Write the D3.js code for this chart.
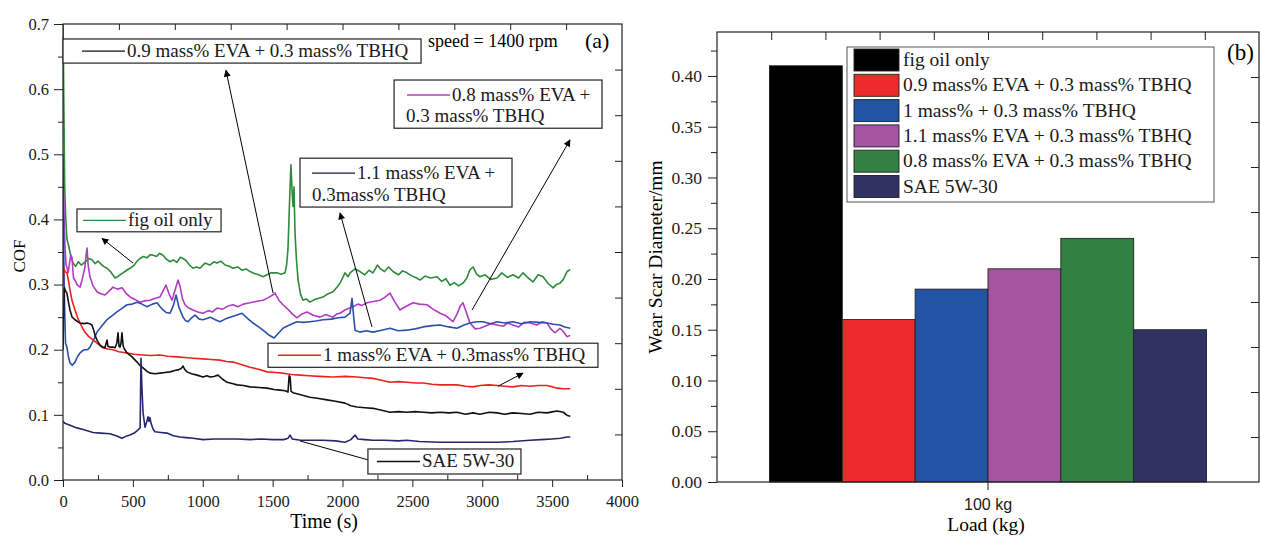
<!DOCTYPE html>
<html><head><meta charset="utf-8">
<script src="https://cdn.jsdelivr.net/npm/d3@7"></script>
<style>body{margin:0;background:#fff}svg{display:block}</style>
</head><body>
<svg id="c" width="1261" height="536"></svg>
<script>
// ---------- DATA: panel (a) COF vs time ----------
const figOil = [[0,0.72],[5,0.60],[12,0.45],[20,0.40],[28,0.37],[40,0.36],[55,0.345],[72,0.333],[90,0.328],[110,0.335],[130,0.33],[143,0.332],[165,0.336],[185,0.34],[207,0.338],[230,0.332],[250,0.336],[265,0.333],[290,0.328],[315,0.325],[340,0.32],[372,0.31],[390,0.312],[408,0.315],[430,0.318],[455,0.322],[480,0.325],[510,0.33],[530,0.336],[550,0.34],[575,0.343],[600,0.341],[625,0.346],[644,0.345],[670,0.343],[690,0.348],[716,0.345],[740,0.339],[766,0.335],[790,0.338],[815,0.334],[840,0.342],[859,0.34],[880,0.337],[905,0.33],[930,0.325],[955,0.327],[980,0.325],[1016,0.333],[1050,0.33],[1080,0.335],[1102,0.333],[1130,0.336],[1160,0.33],[1190,0.328],[1217,0.325],[1250,0.327],[1280,0.322],[1310,0.324],[1338,0.32],[1370,0.317],[1400,0.315],[1431,0.312],[1460,0.315],[1490,0.318],[1531,0.318],[1560,0.316],[1589,0.318],[1600,0.33],[1610,0.355],[1620,0.42],[1631,0.484],[1640,0.44],[1646,0.42],[1653,0.45],[1660,0.38],[1670,0.34],[1682,0.307],[1700,0.285],[1717,0.276],[1740,0.278],[1767,0.273],[1800,0.277],[1830,0.279],[1860,0.281],[1890,0.285],[1932,0.289],[1960,0.296],[1982,0.302],[2018,0.318],[2040,0.312],[2054,0.318],[2090,0.324],[2125,0.32],[2160,0.315],[2190,0.322],[2218,0.318],[2250,0.33],[2268,0.325],[2300,0.32],[2330,0.327],[2361,0.32],[2400,0.315],[2430,0.321],[2461,0.318],[2500,0.313],[2530,0.31],[2555,0.307],[2590,0.313],[2630,0.31],[2676,0.312],[2710,0.305],[2740,0.309],[2769,0.299],[2800,0.303],[2830,0.298],[2862,0.302],[2890,0.31],[2910,0.322],[2934,0.327],[2960,0.316],[2984,0.312],[3020,0.315],[3060,0.308],[3106,0.31],[3140,0.318],[3180,0.311],[3220,0.315],[3260,0.31],[3292,0.318],[3330,0.31],[3363,0.304],[3400,0.315],[3435,0.312],[3470,0.302],[3507,0.295],[3530,0.3],[3556,0.302],[3580,0.308],[3607,0.32],[3630,0.323]];
const eva08 = [[0,0.30],[4,0.44],[8,0.40],[14,0.36],[22,0.33],[30,0.325],[36,0.318],[45,0.33],[55,0.345],[64,0.342],[75,0.31],[86,0.307],[100,0.30],[122,0.296],[140,0.31],[157,0.327],[165,0.345],[172,0.356],[180,0.33],[193,0.312],[215,0.298],[243,0.289],[270,0.286],[300,0.284],[330,0.29],[358,0.296],[390,0.293],[422,0.295],[450,0.287],[480,0.281],[515,0.277],[550,0.273],[585,0.275],[623,0.276],[660,0.279],[694,0.281],[715,0.29],[737,0.299],[760,0.285],[780,0.276],[800,0.29],[823,0.307],[840,0.295],[855,0.278],[873,0.269],[900,0.264],[930,0.261],[965,0.258],[1002,0.256],[1040,0.26],[1070,0.258],[1102,0.264],[1140,0.262],[1180,0.267],[1217,0.269],[1250,0.266],[1290,0.27],[1338,0.272],[1380,0.274],[1431,0.276],[1470,0.28],[1500,0.284],[1517,0.287],[1545,0.276],[1574,0.269],[1610,0.262],[1640,0.255],[1674,0.249],[1710,0.255],[1746,0.258],[1790,0.253],[1839,0.25],[1880,0.254],[1932,0.25],[1960,0.255],[1982,0.256],[2018,0.261],[2050,0.264],[2075,0.266],[2110,0.27],[2140,0.268],[2175,0.272],[2220,0.274],[2268,0.276],[2300,0.28],[2340,0.287],[2370,0.275],[2411,0.261],[2450,0.266],[2504,0.272],[2550,0.27],[2604,0.269],[2650,0.262],[2698,0.256],[2740,0.252],[2791,0.243],[2820,0.255],[2845,0.268],[2862,0.272],[2885,0.258],[2912,0.241],[2950,0.232],[2984,0.233],[3020,0.236],[3060,0.24],[3106,0.238],[3150,0.236],[3180,0.241],[3220,0.238],[3260,0.235],[3300,0.242],[3342,0.241],[3390,0.238],[3430,0.243],[3463,0.241],[3490,0.232],[3521,0.226],[3556,0.233],[3580,0.228],[3607,0.22],[3630,0.222]];
const eva11 = [[0,0.50],[5,0.36],[10,0.28],[18,0.21],[28,0.204],[40,0.188],[50,0.18],[65,0.176],[86,0.181],[105,0.19],[122,0.195],[150,0.2],[175,0.2],[193,0.204],[215,0.213],[243,0.227],[280,0.237],[315,0.246],[350,0.252],[386,0.258],[420,0.263],[458,0.269],[495,0.27],[530,0.273],[565,0.27],[601,0.266],[640,0.27],[673,0.272],[695,0.266],[716,0.261],[740,0.257],[766,0.256],[790,0.268],[809,0.284],[830,0.265],[859,0.25],[875,0.245],[895,0.243],[920,0.249],[945,0.253],[975,0.247],[1002,0.246],[1030,0.248],[1052,0.25],[1090,0.246],[1123,0.243],[1160,0.247],[1195,0.25],[1240,0.253],[1281,0.256],[1320,0.248],[1360,0.241],[1400,0.235],[1431,0.23],[1470,0.223],[1510,0.218],[1540,0.225],[1574,0.233],[1620,0.238],[1674,0.243],[1720,0.242],[1767,0.243],[1810,0.244],[1860,0.246],[1920,0.247],[1970,0.249],[2018,0.25],[2054,0.256],[2068,0.279],[2078,0.255],[2090,0.23],[2125,0.227],[2170,0.229],[2218,0.227],[2280,0.23],[2340,0.233],[2400,0.229],[2461,0.23],[2520,0.232],[2576,0.235],[2640,0.237],[2698,0.238],[2760,0.235],[2819,0.233],[2870,0.238],[2912,0.241],[2960,0.243],[3006,0.243],[3060,0.24],[3106,0.243],[3160,0.241],[3220,0.243],[3280,0.24],[3342,0.243],[3400,0.242],[3463,0.241],[3510,0.239],[3556,0.238],[3590,0.235],[3630,0.233]];
const eva10 = [[0,0.30],[6,0.325],[15,0.32],[28,0.318],[40,0.305],[50,0.292],[65,0.275],[86,0.261],[105,0.249],[122,0.241],[140,0.233],[157,0.227],[185,0.22],[215,0.215],[250,0.209],[286,0.203],[320,0.201],[358,0.2],[400,0.197],[458,0.195],[510,0.193],[573,0.192],[630,0.191],[694,0.192],[750,0.19],[816,0.189],[870,0.188],[930,0.187],[1002,0.186],[1060,0.185],[1123,0.184],[1170,0.182],[1217,0.181],[1280,0.177],[1338,0.173],[1400,0.17],[1460,0.166],[1520,0.165],[1574,0.164],[1635,0.162],[1696,0.161],[1760,0.16],[1830,0.159],[1932,0.158],[2018,0.159],[2104,0.158],[2160,0.157],[2218,0.156],[2280,0.153],[2340,0.15],[2400,0.151],[2461,0.15],[2520,0.149],[2576,0.149],[2640,0.147],[2698,0.146],[2760,0.146],[2819,0.146],[2880,0.144],[2934,0.143],[2984,0.145],[3050,0.146],[3106,0.145],[3160,0.144],[3220,0.143],[3280,0.145],[3342,0.144],[3400,0.145],[3463,0.145],[3500,0.143],[3535,0.141],[3580,0.14],[3630,0.14]];
const eva09 = [[0,0.20],[5,0.26],[10,0.295],[18,0.29],[28,0.287],[40,0.272],[50,0.261],[65,0.25],[86,0.246],[105,0.243],[122,0.241],[150,0.24],[172,0.241],[190,0.24],[207,0.238],[220,0.23],[229,0.222],[245,0.214],[265,0.207],[285,0.204],[300,0.203],[315,0.215],[322,0.205],[336,0.204],[358,0.204],[372,0.203],[385,0.21],[394,0.226],[401,0.205],[408,0.204],[415,0.21],[422,0.226],[430,0.206],[437,0.202],[458,0.195],[494,0.189],[530,0.181],[550,0.176],[573,0.172],[600,0.167],[623,0.164],[660,0.163],[694,0.164],[730,0.165],[766,0.166],[800,0.168],[823,0.169],[845,0.171],[859,0.175],[870,0.17],[887,0.166],[920,0.163],[959,0.161],[1002,0.158],[1030,0.16],[1052,0.158],[1080,0.159],[1109,0.161],[1140,0.155],[1174,0.15],[1210,0.148],[1245,0.146],[1290,0.145],[1338,0.143],[1400,0.142],[1460,0.141],[1510,0.139],[1553,0.138],[1590,0.137],[1610,0.135],[1618,0.16],[1625,0.158],[1632,0.136],[1646,0.134],[1700,0.131],[1767,0.127],[1830,0.125],[1889,0.123],[1950,0.121],[2018,0.118],[2060,0.114],[2104,0.112],[2160,0.111],[2218,0.11],[2280,0.107],[2340,0.104],[2400,0.105],[2461,0.104],[2520,0.105],[2576,0.104],[2640,0.103],[2698,0.104],[2760,0.103],[2819,0.104],[2880,0.101],[2934,0.103],[2984,0.101],[3050,0.104],[3106,0.103],[3160,0.101],[3220,0.103],[3280,0.102],[3342,0.101],[3400,0.104],[3463,0.103],[3510,0.105],[3535,0.106],[3580,0.104],[3610,0.099],[3630,0.098]];
const sae = [[0,0.09],[14,0.087],[50,0.084],[100,0.08],[150,0.077],[215,0.073],[270,0.072],[336,0.071],[380,0.068],[422,0.064],[450,0.067],[480,0.069],[510,0.072],[537,0.077],[552,0.08],[558,0.187],[565,0.14],[573,0.103],[580,0.092],[587,0.081],[600,0.09],[608,0.097],[615,0.09],[622,0.096],[630,0.087],[645,0.078],[658,0.074],[700,0.073],[744,0.072],[790,0.068],[837,0.066],[880,0.065],[930,0.064],[1002,0.062],[1080,0.063],[1160,0.063],[1250,0.063],[1338,0.062],[1420,0.063],[1500,0.062],[1580,0.062],[1610,0.064],[1625,0.069],[1640,0.063],[1700,0.061],[1780,0.061],[1860,0.061],[1950,0.06],[2018,0.058],[2060,0.062],[2090,0.069],[2110,0.063],[2160,0.062],[2218,0.061],[2300,0.061],[2400,0.06],[2461,0.061],[2550,0.059],[2698,0.058],[2800,0.058],[2900,0.058],[3006,0.058],[3106,0.058],[3220,0.059],[3342,0.061],[3420,0.062],[3500,0.063],[3560,0.064],[3607,0.066],[3630,0.066]];

const xTicksA = [0,500,1000,1500,2000,2500,3000,3500,4000];
const yTicksA = [0,0.1,0.2,0.3,0.4,0.5,0.6,0.7];

// annotation boxes (data units: [t0, cof0, t1, cof1]) and arrows ([tail],[head])
const annotations = [
  {lines:["0.9 mass% EVA + 0.3 mass% TBHQ"], color:"#111", box:[0,0.677,2562,0.640], arrow:[[1503,0.287],[1166,0.629]], indent:19},
  {lines:["0.8 mass% EVA +","0.3 mass% TBHQ"], color:"#b23cc0", box:[2369,0.614,3857,0.540], arrow:[[2927,0.261],[3628,0.522]], indent:13},
  {lines:["1.1 mass% EVA +","0.3mass% TBHQ"], color:"#1a1a3a", box:[1696,0.494,3213,0.419], arrow:[[2211,0.235],[1982,0.41]], indent:12},
  {lines:["fig oil only"], color:"#2e8b3a", box:[100,0.416,1131,0.381], arrow:[[501,0.333],[279,0.371]], indent:6},
  {lines:["1 mass% EVA + 0.3mass% TBHQ"], color:"#e8231e", box:[1467,0.210,3828,0.173], arrow:[[3113,0.144],[3292,0.164]], indent:10},
  {lines:["SAE 5W-30"], color:"#111", box:[2182,0.0476,3277,0.0092], arrow:[[2182,0.031],[1696,0.0599]], indent:9, noHead:true}
];

// ---------- DATA: panel (b) wear scar ----------
const loadCats = ["100 kg"];
const barNames = ["fig oil only","0.9 mass% EVA + 0.3 mass% TBHQ","1 mass% + 0.3 mass% TBHQ","1.1 mass% EVA + 0.3 mass% TBHQ","0.8 mass% EVA + 0.3 mass% TBHQ","SAE 5W-30"];
const wearScar = [0.41,0.16,0.19,0.21,0.24,0.15];
const barColors = ["#000000","#ee2a2a","#2354a4","#a5559f","#338043","#313264"];
const yTicksB = [0,0.05,0.10,0.15,0.20,0.25,0.30,0.35,0.40];

// ---------- DRAW ----------
const svg = d3.select("#c");
const serif = "'Liberation Serif','Times New Roman',serif";
const sans = "'Liberation Sans',Arial,sans-serif";

svg.append("defs").append("marker").attr("id","ah")
  .attr("viewBox","0 0 10 10").attr("refX",9).attr("refY",5)
  .attr("markerWidth",9).attr("markerHeight",7).attr("markerUnits","userSpaceOnUse")
  .attr("orient","auto").append("path").attr("d","M0,0L10,5L0,10z").attr("fill","#000");

// ===== Panel (a) =====
const A = {l:63, r:622, t:24, b:480};
const x = d3.scaleLinear().domain([0,4000]).range([A.l,A.r]);
const y = d3.scaleLinear().domain([0,0.7]).range([A.b,A.t]);
const gA = svg.append("g");
svg.select("defs").append("clipPath").attr("id","clipA").append("rect")
  .attr("x",A.l).attr("y",A.t).attr("width",A.r-A.l).attr("height",A.b-A.t);

const seriesA = [
  {d:figOil, c:"#2e8b3a"},
  {d:eva08, c:"#b23cc0"},
  {d:eva11, c:"#2a4fae"},
  {d:eva10, c:"#e8231e"},
  {d:eva09, c:"#111111"},
  {d:sae, c:"#27276e"}
];
const line = d3.line().x(d=>x(d[0])).y(d=>y(d[1]));
const gLines = gA.append("g").attr("clip-path","url(#clipA)");
seriesA.forEach(s=>{
  gLines.append("path").datum(s.d).attr("d",line).attr("fill","none")
    .attr("stroke",s.c).attr("stroke-width",1.6).attr("stroke-linejoin","round");
});

function styleAxis(g, size, font){
  g.select(".domain").remove();
  g.attr("font-family",null).attr("font-size",null);
  g.selectAll("line").attr("stroke","#222").attr("stroke-width",1);
  g.selectAll("text").style("font-family",font||serif).style("font-size",size+"px").attr("fill","#1a1a1a");
}
const xMinorA = d3.range(250,4000,500);
const yMinorA = d3.range(0.05,0.7,0.1);
gA.append("g").attr("transform",`translate(0,${A.b})`)
  .call(d3.axisBottom(x).tickValues(xTicksA).tickSize(7).tickPadding(8).tickFormat(d3.format("d")))
  .call(g=>styleAxis(g,16.5));
gA.append("g").attr("transform",`translate(0,${A.b})`)
  .call(d3.axisBottom(x).tickValues(xMinorA).tickSize(-5).tickFormat(""))
  .call(g=>styleAxis(g,1));
gA.append("g").attr("transform",`translate(${A.l},0)`)
  .call(d3.axisLeft(y).tickValues(yTicksA).tickSize(9).tickPadding(5).tickFormat(d3.format(".1f")))
  .call(g=>styleAxis(g,16.5));
gA.append("g").attr("transform",`translate(${A.l},0)`)
  .call(d3.axisLeft(y).tickValues(yMinorA).tickSize(5).tickFormat(""))
  .call(g=>styleAxis(g,1));
gA.append("g").attr("transform",`translate(0,${A.t})`)
  .call(d3.axisTop(x).tickValues(d3.range(400,4000,400)).tickSize(-6).tickFormat(""))
  .call(g=>styleAxis(g,1));
gA.append("g").attr("transform",`translate(${A.r},0)`)
  .call(d3.axisRight(y).tickValues(d3.range(1,10).map(k=>k*0.07)).tickSize(-7).tickFormat(""))
  .call(g=>styleAxis(g,1));
gA.append("rect").attr("x",A.l).attr("y",A.t).attr("width",A.r-A.l).attr("height",A.b-A.t)
  .attr("fill","none").attr("stroke","#222").attr("stroke-width",1.2);

// axis titles
gA.append("text").attr("x",A.l+(A.r-A.l)*0.467).attr("y",528).attr("text-anchor","middle")
  .attr("font-family",serif).attr("font-size",20).text("Time (s)");
gA.append("text").attr("transform",`translate(25,${(A.t+A.b)/2+4}) rotate(-90)`).attr("text-anchor","middle")
  .attr("font-family",serif).attr("font-size",17).text("COF");
gA.append("text").attr("x",428).attr("y",47).attr("font-family",serif).attr("font-size",18).text("speed = 1400 rpm");
gA.append("text").attr("x",585).attr("y",48).attr("font-family",serif).attr("font-size",22).text("(a)");

// annotations
annotations.forEach(a=>{
  const bx0=x(a.box[0]), by0=y(a.box[1]), bx1=x(a.box[2]), by1=y(a.box[3]);
  gA.append("line").attr("x1",x(a.arrow[0][0])).attr("y1",y(a.arrow[0][1]))
    .attr("x2",x(a.arrow[1][0])).attr("y2",y(a.arrow[1][1]))
    .attr("stroke","#000").attr("stroke-width",1)
    .attr("marker-end",a.noHead?null:"url(#ah)");
  gA.append("rect").attr("x",bx0).attr("y",by0).attr("width",bx1-bx0).attr("height",by1-by0)
    .attr("fill","#fff").attr("stroke","#222").attr("stroke-width",1.2);
  const two = a.lines.length>1;
  const cy = two ? by0+15 : (by0+by1)/2;
  const sx = bx0 + a.indent;
  gA.append("line").attr("x1",sx).attr("x2",sx+43).attr("y1",cy).attr("y2",cy)
    .attr("stroke",a.color).attr("stroke-width",1.3);
  gA.append("text").attr("x",sx+45).attr("y",cy+6).attr("font-family",serif).attr("font-size",19)
    .attr("fill","#1a1a1a").text(a.lines[0]);
  if(two) gA.append("text").attr("x",bx0+12).attr("y",by1-6).attr("font-family",serif).attr("font-size",19)
    .attr("fill","#1a1a1a").text(a.lines[1]);
});

// ===== Panel (b) =====
const B = {l:717, r:1259, t:32, b:482};
const xb = d3.scaleBand().domain(loadCats).range([B.l,B.r]).paddingOuter(0.12).paddingInner(0);
const xs = d3.scaleBand().domain(barNames).range([0,xb.bandwidth()]).padding(0);
const yb = d3.scaleLinear().domain([0,0.4433]).range([B.b,B.t]);
const gB = svg.append("g");

loadCats.forEach(cat=>{
  gB.append("g").selectAll("rect").data(barNames).join("rect")
    .attr("x",n=>xb(cat)+xs(n)).attr("width",xs.bandwidth())
    .attr("y",(n,i)=>yb(wearScar[i])).attr("height",(n,i)=>yb(0)-yb(wearScar[i]))
    .attr("fill",(n,i)=>barColors[i]).attr("stroke","#222").attr("stroke-width",0.9);
});

gB.append("g").attr("transform",`translate(${B.l},0)`)
  .call(d3.axisLeft(yb).tickValues(yTicksB).tickSize(9).tickPadding(6).tickFormat(d3.format(".2f")))
  .call(g=>styleAxis(g,17.5));
gB.append("g").attr("transform",`translate(${B.l},0)`)
  .call(d3.axisLeft(yb).tickValues(d3.range(0.025,0.44,0.05)).tickSize(6).tickFormat(""))
  .call(g=>styleAxis(g,1));
gB.append("g").attr("transform",`translate(0,${B.b})`)
  .call(d3.axisBottom(xb).tickSize(8).tickPadding(9))
  .call(g=>styleAxis(g,16,sans));
const fr = d3.scaleLinear().domain([0,1]).range([B.l,B.r]);
gB.append("g").attr("transform",`translate(0,${B.t})`)
  .call(d3.axisTop(fr).tickValues(d3.range(1,10).map(k=>k/10)).tickSize(-8).tickFormat(""))
  .call(g=>styleAxis(g,1));
const fy = d3.scaleLinear().domain([0,1]).range([B.b,B.t]);
gB.append("g").attr("transform",`translate(${B.r},0)`)
  .call(d3.axisRight(fy).tickValues(d3.range(1,10).map(k=>k/10)).tickSize(-8).tickFormat(""))
  .call(g=>styleAxis(g,1));
gB.append("rect").attr("x",B.l).attr("y",B.t).attr("width",B.r-B.l).attr("height",B.b-B.t)
  .attr("fill","none").attr("stroke","#222").attr("stroke-width",1.2);

gB.append("text").attr("x",986).attr("y",531).attr("text-anchor","middle")
  .attr("font-family",serif).attr("font-size",19.5).text("Load (kg)");
gB.append("text").attr("transform",`translate(662,${(B.t+B.b)/2}) rotate(-90)`).attr("text-anchor","middle")
  .attr("font-family",serif).attr("font-size",19.5).text("Wear Scar Diameter/mm");
gB.append("text").attr("x",1227).attr("y",60).attr("font-family",serif).attr("font-size",23).text("(b)");

// legend
const lx = B.l+130, ly = B.t+15;
const lg = gB.append("g");
lg.append("rect").attr("x",lx).attr("y",ly).attr("width",367).attr("height",155)
  .attr("fill","#fff").attr("stroke","#555").attr("stroke-width",1);
barNames.forEach((n,i)=>{
  const cy = ly+13+i*25.3;
  lg.append("rect").attr("x",lx+7).attr("y",cy-11).attr("width",45).attr("height",22)
    .attr("fill",barColors[i]).attr("stroke","#222").attr("stroke-width",0.9);
  lg.append("text").attr("x",lx+56).attr("y",cy+6).attr("font-family",serif).attr("font-size",19.5)
    .attr("fill","#1a1a1a").text(n);
});
</script>
</body></html>
